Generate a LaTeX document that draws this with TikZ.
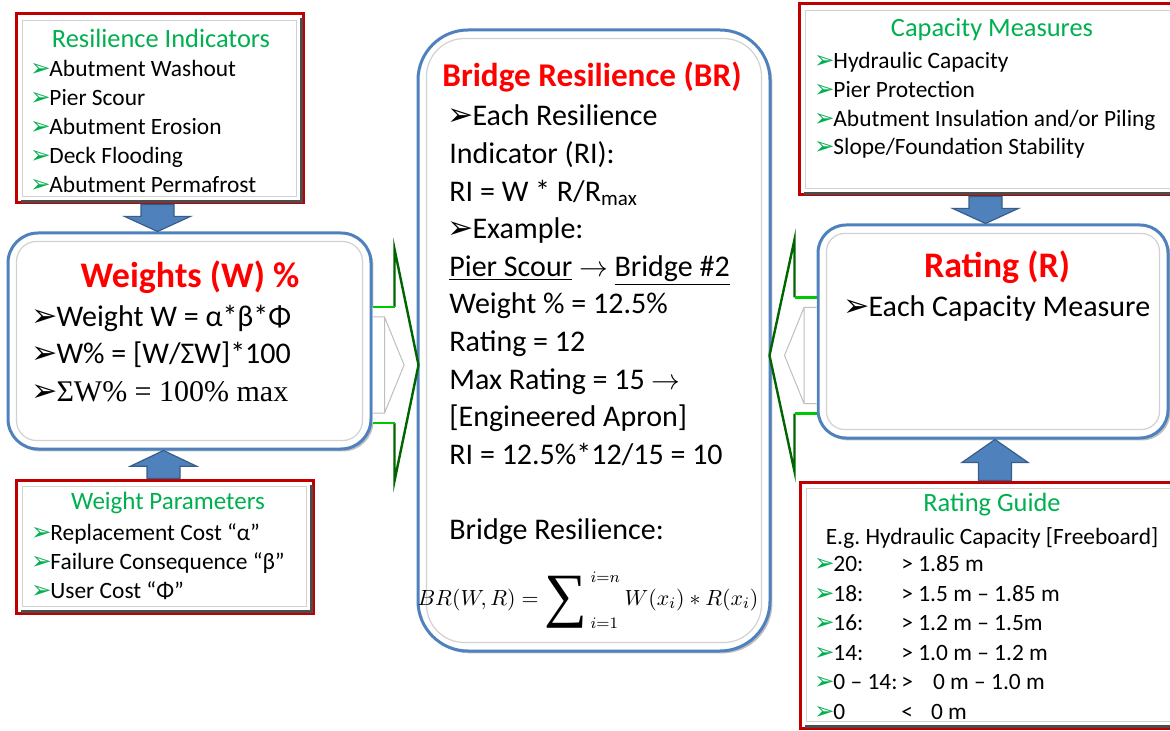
\documentclass[tikz,border=0pt]{standalone}
\usepackage[no-math]{fontspec}
\setmainfont{Carlito}
\newfontfamily\dejavu{DejaVu Sans}
\newfontfamily\timesfont{Liberation Serif}
\usepackage{graphicx}
\usepackage{tikz}
\usepackage{xcolor}
\usetikzlibrary{positioning, calc, shadows}

\definecolor{boxred}{RGB}{192,0,0}
\definecolor{boxblue}{RGB}{79,129,189}
\definecolor{arrowblue}{RGB}{79,129,189}
\definecolor{arrowedge}{RGB}{56,93,138}
\definecolor{titlegreen}{RGB}{0,176,80}
\definecolor{titlered}{RGB}{255,0,0}
\definecolor{darkgreen}{RGB}{0,100,0}
\definecolor{lightgreen}{RGB}{0,200,0}

\newcommand{\gbul}{\makebox[0.77em][l]{\hspace{-0.05em}{\dejavu\color{titlegreen}\scalebox{1.05}{➢}}}}
\newcommand{\kbul}{\makebox[0.77em][l]{\hspace{-0.05em}{\dejavu\scalebox{1.05}{➢}}}}

% blue block arrow: #1 tail, #2 tip
\newcommand{\vblock}[2]{%
  \draw[bluearrow] ($(#1)+(-16.5,0)$) -- ($(#2)!0.56!(#1)+(-16.5,0)$) -- ($(#2)!0.56!(#1)+(-33,0)$) -- (#2)
    -- ($(#2)!0.56!(#1)+(33,0)$) -- ($(#2)!0.56!(#1)+(16.5,0)$) -- ($(#1)+(16.5,0)$) -- cycle;}

% green outlined arrow: #1 tail, #2 tip, #3 head length (signed)
\newcommand{\hblock}[3]{%
  \fill[white] ($(#1)+(0,-58)$) -- ($(#2)+(#3,-58)$) -- ($(#2)+(#3,-116)$) -- (#2) -- ($(#2)+(#3,116)$) -- ($(#2)+(#3,58)$) -- ($(#1)+(0,58)$) -- cycle;
  \draw[bevel] ($(#1)+(0,-48)$) -- ($(#1)+({-0.5*(#3)},-48)$) -- ($(#2)+({0.6*(#3)},0)$) -- ($(#1)+({-0.5*(#3)},48)$) -- ($(#1)+(0,48)$)
    ($(#1)+({-0.5*(#3)},-48)$) -- ($(#1)+({-0.5*(#3)},48)$);
  \draw[headline] ($(#2)+(#3,-58)$) -- ($(#2)+(#3,-116)$) -- (#2) -- ($(#2)+(#3,116)$) -- ($(#2)+(#3,58)$);
  \draw[shaftline] ($(#1)+(0,-58)$) -- ($(#2)+(#3,-58)$) ($(#1)+(0,58)$) -- ($(#2)+(#3,58)$);}

\begin{document}
\begin{tikzpicture}[x=0.5pt, y=-0.5pt, every node/.style={inner sep=0pt},
  listbox/.style={draw=boxred, line width=1.5pt, fill=white},
  roundbox/.style={draw=boxblue, line width=1.5pt, fill=white, drop shadow={shadow xshift=1.2pt, shadow yshift=-1.2pt, opacity=0.5}},
  innerline/.style={draw=black!18, line width=0.6pt},
  edgeshade/.style={draw=black!70, line width=1.2pt},
  title/.style={font=\fontsize{13.2}{16}\selectfont, text=titlegreen},
  bigtitle/.style={font=\fontsize{18}{22}\selectfont\bfseries, text=titlered},
  item/.style={anchor=west, font=\fontsize{11.7}{14}\selectfont, text height=9pt, text depth=2pt},
  mid/.style={anchor=west, font=\fontsize{15}{18}\selectfont, text height=11.5pt, text depth=2.5pt},
  bluearrow/.style={fill=arrowblue, draw=arrowedge, line width=0.6pt},
  headline/.style={draw=darkgreen, line width=1.2pt, line join=miter},
  shaftline/.style={draw=lightgreen, line width=1.2pt},
  bevel/.style={draw=black!25, line width=0.5pt}]

\useasboundingbox (0,0) rectangle (1170,731);

% boxes
\node[listbox, minimum width=143.5pt, minimum height=94.5pt] (ri) at (159.5,108.5) {};
\node[roundbox, rounded corners=15pt, minimum width=181.5pt, minimum height=108pt] (wt) at (189.5,341) {};
\node[listbox, minimum width=148.5pt, minimum height=66.5pt] (wp) at (164.5,546.5) {};
\node[roundbox, rounded corners=25pt, minimum width=176pt, minimum height=310.5pt] (br) at (594,340.5) {};
\node[listbox, minimum width=193pt, minimum height=95.5pt] (cm) at (992,99.5) {};
\node[roundbox, rounded corners=14pt, minimum width=175pt, minimum height=106.5pt] (rt) at (993,331.5) {};
\node[listbox, minimum width=192.5pt, minimum height=123pt] (rg) at (992.5,605) {};

\foreach \b in {ri,wp,cm,rg} {
  \draw[innerline] ($(\b.north west)+(8,8)$) rectangle ($(\b.south east)+(-8,-8)$);
  \draw[edgeshade] ($(\b.north east)+(-3,6)$) -- ($(\b.south east)+(-3,-3)$) -- ($(\b.south west)+(6,-3)$);
}
\foreach \b/\r in {wt/10pt, br/19pt, rt/9pt}
  \draw[innerline, rounded corners=\r] ($(\b.north west)+(10,10)$) rectangle ($(\b.south east)+(-10,-10)$);

% blue arrows
\coordinate (a1) at ($(ri.south)+(-2,0)$);
\coordinate (a1t) at (a1 |- wt.north);
\vblock{a1}{a1t}
\coordinate (a2) at ($(wp.north)+(-1,0)$);
\coordinate (a2t) at (a2 |- wt.south);
\vblock{a2}{a2t}
\coordinate (a3) at ($(cm.south)+(-6.5,0)$);
\coordinate (a3t) at (a3 |- rt.north);
\vblock{a3}{a3t}
\coordinate (a4) at ($(rg.north)+(2.5,0)$);
\coordinate (a4t) at (a4 |- rt.south);
\vblock{a4}{a4t}

% green arrows
\coordinate (la) at ($(wt.east)+(0,24)$);
\coordinate (lat) at ($(br.west |- la)+(2,0)$);
\hblock{la}{lat}{-24}
\coordinate (ra) at ($(rt.west)+(0,24)$);
\coordinate (rat) at ($(br.east |- ra)+(-2,0)$);
\hblock{ra}{rat}{25}

% Resilience Indicators
\node[title] (rititle) at (161,38) {Resilience Indicators};
\foreach \t [count=\i] in {Abutment Washout, Pier Scour, Abutment Erosion, Deck Flooding, Abutment Permafrost}
  \node[item] (ri\i) at (31, 41+29*\i) {\gbul\t};

% Weights
\node[bigtitle] (wttitle) at (190,277) {Weights (W) \%};
\node[mid] (wt1) at (33,318) {\kbul Weight W = α*β*Φ};
\node[mid] (wt2) at (33,355) {\kbul W\% = [W/ΣW]*100};
\node[mid, font=\fontsize{15}{18}\timesfont] (wt3) at (33,392) {\kbul ΣW\% = 100\% max};

% Weight Parameters
\node[title, font=\fontsize{12.5}{15}\selectfont] (wptitle) at (168,503) {Weight Parameters};
\foreach \t [count=\i] in {Replacement Cost “α”, Failure Consequence “β”, User Cost “Φ”}
  \node[item] (wp\i) at (32, 504+29*\i) {\gbul\t};

% Bridge Resilience
\node[bigtitle, font=\fontsize{16.6}{20}\selectfont\bfseries] (brtitle) at (592,77) {Bridge Resilience (BR)};
\foreach \t [count=\i] in {{\kbul Each Resilience}, {Indicator (RI):}, {RI = W * R/R\textsubscript{max}},
    {\kbul Example:}, {\underline{Pier Scour} $\rightarrow$ \underline{Bridge \#2}}, {Weight \% = 12.5\%},
    {Rating = 12}, {Max Rating = 15 $\rightarrow$}, {[Engineered Apron]}, {RI = 12.5\%*12/15 = 10}}
  \node[mid] (br\i) at (449, 79.4+37.6*\i) {\t};
\node[mid] (br11) at (449,530) {Bridge Resilience:};
\node[text height=11pt, text depth=9pt] (brf) at (588,603) {\fontsize{11}{13}\selectfont$BR(W,R)=\mathop{\raisebox{-5pt}{\fontsize{30}{32}\selectfont\timesfont ∑\kern1.5pt}}\nolimits_{i=1}^{i=n}W(x_i)\ast R(x_i)$};

% Capacity Measures
\node[title] (cmtitle) at (992,30) {Capacity Measures};
\foreach \t [count=\i] in {Hydraulic Capacity, Pier Protection, Abutment Insulation and/or Piling, Slope/Foundation Stability}
  \node[item] (cm\i) at (815, 33+28.7*\i) {\gbul\t};

% Rating
\node[bigtitle] (rttitle) at (997,267) {Rating (R)};
\node[mid] (rt1) at (845,308) {\kbul Each Capacity Measure};

% Rating Guide
\node[title] (rgtitle) at (992,505) {Rating Guide};
\node[item, anchor=center] (rgsub) at (992,537) {E.g.\ Hydraulic Capacity [Freeboard]};
\foreach \n/\v [count=\i] in {20:/{> 1.85 m}, 18:/{> 1.5 m – 1.85 m}, 16:/{> 1.2 m – 1.5m}, 14:/{> 1.0 m – 1.2 m},
    {0 – 14:}/{>\hspace{10pt}0 m – 1.0 m}, 0/{<\hspace{9pt}0 m}}
  \node[item] (rg\i) at (815, 535+29.5*\i) {\gbul\makebox[34pt][l]{\n}\v};
\end{tikzpicture}
\end{document}
